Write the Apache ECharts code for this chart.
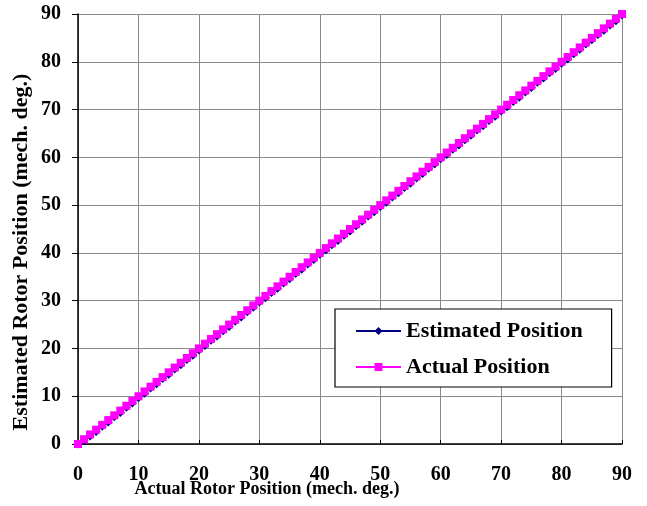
<!DOCTYPE html>
<html>
<head>
<meta charset="utf-8">
<script src="https://cdn.jsdelivr.net/npm/echarts@6/dist/echarts.min.js"></script>
<style>html,body{margin:0;padding:0;background:#fff}#c{width:647px;height:506px}</style>
</head>
<body>
<div id="c"></div>
<script>
var xValues = [0,1,2,3,4,5,6,7,8,9,10,11,12,13,14,15,16,17,18,19,20,21,22,23,24,25,26,27,28,29,30,31,32,33,34,35,36,37,38,39,40,41,42,43,44,45,46,47,48,49,50,51,52,53,54,55,56,57,58,59,60,61,62,63,64,65,66,67,68,69,70,71,72,73,74,75,76,77,78,79,80,81,82,83,84,85,86,87,88,89,90];
var actualPosition = [0,1,2,3,4,5,6,7,8,9,10,11,12,13,14,15,16,17,18,19,20,21,22,23,24,25,26,27,28,29,30,31,32,33,34,35,36,37,38,39,40,41,42,43,44,45,46,47,48,49,50,51,52,53,54,55,56,57,58,59,60,61,62,63,64,65,66,67,68,69,70,71,72,73,74,75,76,77,78,79,80,81,82,83,84,85,86,87,88,89,90];
var estimatedPosition = [0,0.7,1.7,2.6,3.7,4.6,5.7,6.6,7.7,8.6,9.7,10.6,11.7,12.6,13.7,14.6,15.7,16.6,17.7,18.6,19.7,20.6,21.7,22.6,23.7,24.6,25.7,26.6,27.7,28.6,29.7,30.6,31.7,32.6,33.7,34.6,35.7,36.6,37.7,38.6,39.7,40.6,41.7,42.6,43.7,44.6,45.7,46.6,47.7,48.6,49.7,50.6,51.7,52.6,53.7,54.6,55.7,56.6,57.7,58.6,59.7,60.6,61.7,62.6,63.7,64.6,65.7,66.6,67.7,68.6,69.7,70.6,71.7,72.6,73.7,74.6,75.7,76.6,77.7,78.6,79.7,80.6,81.7,82.6,83.7,84.6,85.7,86.6,87.7,88.6,89.8];
var seriesNames = ['Estimated Position', 'Actual Position'];
var xTitle = 'Actual Rotor Position (mech. deg.)';
var yTitle = 'Estimated Rotor Position (mech. deg.)';

function pairs(ys){ return xValues.map(function(x,i){ return [x, ys[i]]; }); }

var FONT = '"Liberation Serif","Times New Roman",serif';
var chart = echarts.init(document.getElementById('c'), null, {renderer:'canvas'});
chart.setOption({
  animation:false,
  backgroundColor:'#fff',
  grid:{left:78, top:14, right:25, bottom:62, containLabel:false},
  xAxis:{
    type:'value', min:0, max:90, interval:10,
    axisLine:{lineStyle:{color:'#000', width:1.5}},
    axisTick:{inside:true, length:4, lineStyle:{color:'#000'}},
    axisLabel:{color:'#000', fontFamily:FONT, fontWeight:'bold', fontSize:20, margin:21},
    splitLine:{show:true, lineStyle:{color:'#8a8a8a', width:1}}
  },
  yAxis:{
    type:'value', min:0, max:90, interval:10,
    axisLine:{show:true, lineStyle:{color:'#000', width:1.5}},
    axisTick:{show:true, inside:false, length:6, lineStyle:{color:'#000'}},
    axisLabel:{color:'#000', fontFamily:FONT, fontWeight:'bold', fontSize:20, margin:17},
    splitLine:{show:true, lineStyle:{color:'#8a8a8a', width:1}}
  },
  legend:{
    orient:'vertical', left:335, top:309,
    backgroundColor:'#fff', borderColor:'#000', borderWidth:1.2,
    padding:[11,29,9,20],
    itemWidth:45, itemHeight:10, itemGap:14,
    textStyle:{color:'#000', fontFamily:FONT, fontWeight:'bold', fontSize:22, lineHeight:22},
    data:[seriesNames[0], seriesNames[1]]
  },
  graphic:[
    {type:'text', position:[267,489], style:{text:xTitle, x:0, y:0, textAlign:'center', textVerticalAlign:'middle', font:'bold 18px '+FONT, fill:'#000'}},
    {type:'text', position:[21,252], rotation:Math.PI/2, style:{text:yTitle, x:0, y:0, textAlign:'center', textVerticalAlign:'middle', font:'bold 22px '+FONT, fill:'#000'}}
  ],
  series:[
    {name:seriesNames[0], type:'line', data:pairs(estimatedPosition), symbol:'diamond', symbolSize:9, showAllSymbol:true,
     itemStyle:{color:'#000080'}, lineStyle:{color:'#000080', width:1.5}},
    {name:seriesNames[1], type:'line', data:pairs(actualPosition), symbol:'rect', symbolSize:8, showAllSymbol:true,
     itemStyle:{color:'#ff00ff'}, lineStyle:{color:'#ff00ff', width:1.5}}
  ]
});
</script>
</body>
</html>
